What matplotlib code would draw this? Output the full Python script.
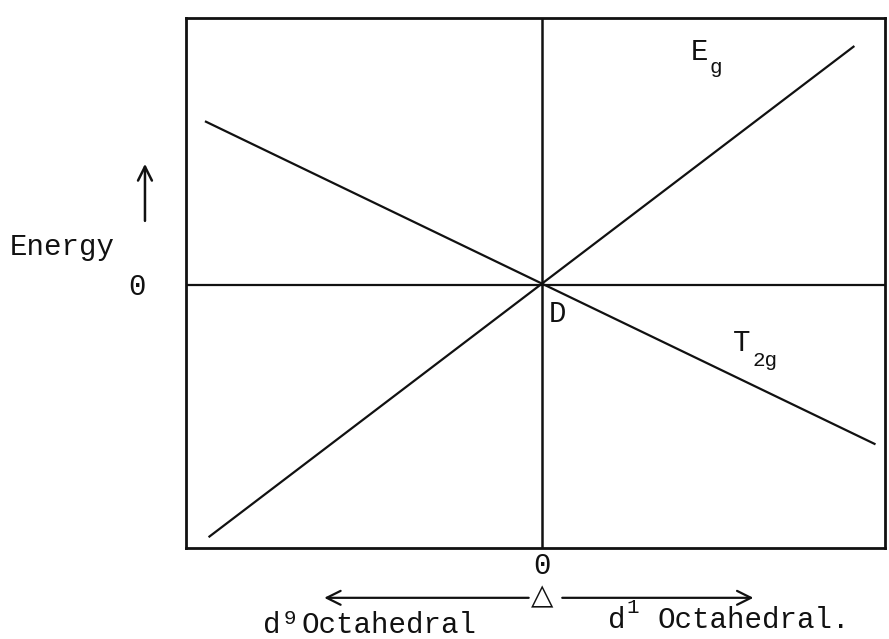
import matplotlib
matplotlib.use('Agg')
import matplotlib.pyplot as plt

# end points of the two levels (delta, energy)
eg_delta = [-0.95, 0.89]
eg_energy = [-0.57, 0.54]
t2g_delta = [-0.96, 0.95]
t2g_energy = [0.37, -0.36]

plt.rcParams['font.family'] = ['Liberation Mono', 'DejaVu Sans Mono']
fs = 21
sub = 15
ink = '#111111'

fig = plt.figure(figsize=(8.89, 6.39), dpi=100)
ax = fig.add_axes([186/889, 1 - 548/639, 699/889, 530/639])
ax.set_xlim(-1.017, 0.98)
ax.set_ylim(-0.596, 0.605)
ax.set_xticks([])
ax.set_yticks([])
for s in ax.spines.values():
    s.set_linewidth(2.0)
    s.set_color(ink)

ax.axvline(0, color=ink, lw=1.8)
ax.axhline(0, color=ink, lw=1.6)
ax.plot(eg_delta, eg_energy, color=ink, lw=1.6)
ax.plot(t2g_delta, t2g_energy, color=ink, lw=1.6)

# labels on the lines
ax.text(0.451, 0.528, 'E', fontsize=fs, ha='center', va='center', color=ink)
ax.text(0.497, 0.492, 'g', fontsize=sub, ha='center', va='center', color=ink)
ax.text(0.569, -0.131, 'T', fontsize=fs, ha='center', va='center', color=ink)
ax.text(0.637, -0.170, '2g', fontsize=sub, ha='center', va='center', color=ink)
ax.text(0.043, -0.066, 'D', fontsize=fs, ha='center', va='center', color=ink)

# energy axis
ax.text(-0.177, 0.568, 'Energy', transform=ax.transAxes, fontsize=fs,
        ha='center', va='center', color=ink)
ax.annotate('', xy=(-0.0587, 0.73), xytext=(-0.0587, 0.612),
            xycoords='axes fraction', textcoords='axes fraction',
            arrowprops=dict(arrowstyle='->', lw=1.8, color=ink,
                            mutation_scale=25), annotation_clip=False)
ax.text(-0.070, 0.4925, '0', transform=ax.transAxes, fontsize=fs,
        ha='center', va='center', color=ink)

# delta axis below
bt = ax.get_xaxis_transform()
ax.text(0, -0.034, '0', transform=bt, fontsize=fs, ha='center', va='center', color=ink)
ax.text(0, -0.092, '\u25b3', transform=bt, fontsize=fs, ha='center', va='center',
        color=ink, family='DejaVu Sans')
ax.annotate('', xy=(-0.63, -0.094), xytext=(-0.03, -0.094),
            xycoords=bt, textcoords=bt,
            arrowprops=dict(arrowstyle='->', lw=1.6, color=ink, mutation_scale=25),
            annotation_clip=False)
ax.annotate('', xy=(0.612, -0.094), xytext=(0.05, -0.094),
            xycoords=bt, textcoords=bt,
            arrowprops=dict(arrowstyle='->', lw=1.6, color=ink, mutation_scale=25),
            annotation_clip=False)

ax.text(-0.772, -0.160, 'd', transform=bt, fontsize=fs, ha='center', va='baseline', color=ink)
ax.text(-0.72, -0.143, '9', transform=bt, fontsize=sub, ha='center', va='baseline', color=ink)
ax.text(-0.688, -0.160, 'Octahedral', transform=bt, fontsize=fs, ha='left', va='baseline', color=ink)

ax.text(0.214, -0.151, 'd', transform=bt, fontsize=fs, ha='center', va='baseline', color=ink)
ax.text(0.258, -0.1226, '1', transform=bt, fontsize=sub, ha='center', va='baseline', color=ink)
ax.text(0.33, -0.151, 'Octahedral.', transform=bt, fontsize=fs, ha='left', va='baseline', color=ink)

plt.savefig('out.png', dpi=100)
